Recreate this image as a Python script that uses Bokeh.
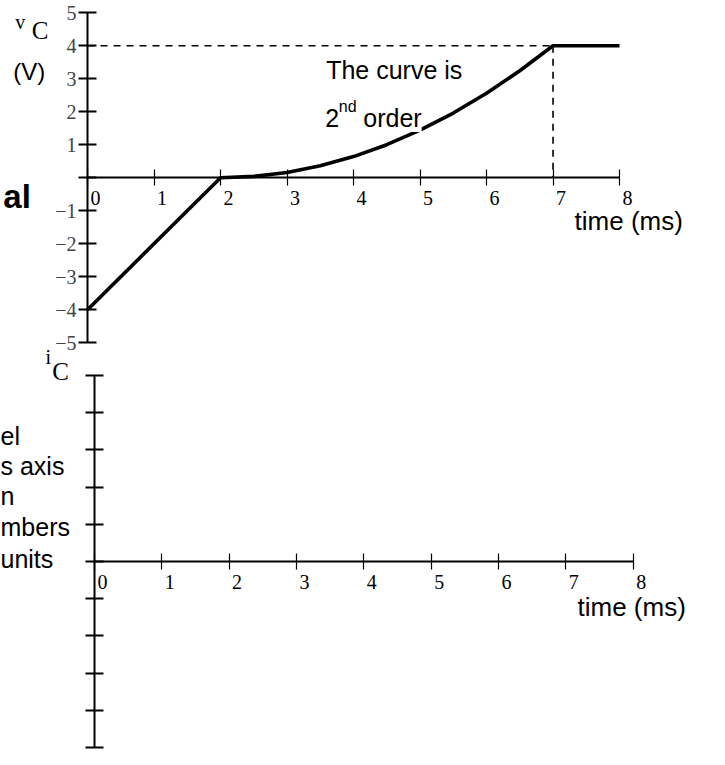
from bokeh.plotting import figure
from bokeh.models import Range1d, LinearAxis, FixedTicker, Label
from bokeh.core.properties import value
from bokeh.embed import file_html
from bokeh.resources import INLINE

# ---------------- data ----------------
time_ticks = [0, 1, 2, 3, 4, 5, 6, 7, 8]
vc_ticks = [-5, -4, -3, -2, -1, 0, 1, 2, 3, 4, 5]
ic_ticks = [-5, -4, -3, -2, -1, 0, 1, 2, 3, 4, 5]

# v_C(t) (ms, V)
t_vc = [0, 2, 2.5, 3, 3.5, 4, 4.5, 5, 5.5, 6, 6.5, 7, 8]
vc = [-4, 0, 0.04, 0.16, 0.36, 0.64, 1.0, 1.44, 1.96, 2.56, 3.24, 4, 4]

# dashed guides
guide_h_t = [0, 7]
guide_h_v = [4, 4]
guide_v_t = [7, 7]
guide_v_v = [4, 0]

left_fragments = ["el", "s axis", "n", "mbers", "units"]

SERIF = "Liberation Serif"
SANS = "Liberation Sans"

W, H = 709, 749

# reference layout anchors (pixels of a 725x765 page)
TX0, TPX = 89, 68.0      # top plot: x=0 pixel, px per ms
TY0, TPY = 181, 33.7     # top plot: y=0 pixel, px per V
BX0, BPX = 96, 68.875    # bottom plot
BY0, BPY = 573, 38.0

p = figure(width=W, height=H,
           x_range=Range1d(-TX0 / TPX, (725 - TX0) / TPX),
           y_range=Range1d((TY0 - 765) / TPY, TY0 / TPY),
           x_axis_type=None, y_axis_type=None,
           toolbar_location=None, output_backend="svg",
           min_border=0, outline_line_color=None)
p.extra_x_ranges = {"bx": Range1d(-BX0 / BPX, (725 - BX0) / BPX)}
p.extra_y_ranges = {"by": Range1d((BY0 - 765) / BPY, BY0 / BPY)}


def minus(v):
    return ("\u2212" + str(-v)) if v < 0 else str(v)


def x_axis(rn=None):
    kw = {}
    if rn:
        kw = dict(x_range_name="bx", y_range_name="by")
    ax = LinearAxis(fixed_location=0, bounds=(0, 8),
                    ticker=FixedTicker(ticks=time_ticks, minor_ticks=[]),
                    major_tick_in=8, major_tick_out=8,
                    major_tick_line_width=1.2, axis_line_width=2,
                    minor_tick_line_color=None,
                    major_label_text_color=None, **kw)
    return ax


def y_axis(ticks, labels=True, rn=None):
    kw = {}
    if rn:
        kw = dict(x_range_name="bx", y_range_name="by")
    ax = LinearAxis(fixed_location=0, bounds=(-5, 5),
                    ticker=FixedTicker(ticks=ticks, minor_ticks=[]),
                    major_tick_in=9, major_tick_out=9,
                    major_tick_line_width=2, axis_line_width=2,
                    minor_tick_line_color=None,
                    major_label_standoff=2,
                    major_label_text_font=SERIF,
                    major_label_text_font_size="20px",
                    **kw)
    if labels:
        ax.major_label_overrides = {v: ("" if v == 0 else minus(v)) for v in ticks}
    else:
        ax.major_label_text_color = None
    return ax


p.add_layout(x_axis(), "below")
p.add_layout(y_axis(vc_ticks), "left")
p.add_layout(x_axis("b"), "below")
p.add_layout(y_axis(ic_ticks, labels=False, rn="b"), "left")

# curve and guides (top)
p.line(guide_h_t, guide_h_v, line_color="black", line_width=1.6, line_dash="7 6")
p.line(guide_v_t, guide_v_v, line_color="black", line_width=1.6, line_dash="7 6")
p.line(t_vc, vc, line_color="black", line_width=3.6, line_join="round")

# x tick labels (right of each tick, below axis)
tick_labels = [str(t) for t in time_ticks]
p.text(x=time_ticks, y=[0] * len(time_ticks), text=tick_labels,
       x_offset=3, y_offset=20, text_baseline="alphabetic",
       text_font=value(SERIF), text_font_size="20px", text_color="black")
p.text(x=time_ticks, y=[0] * len(time_ticks), text=tick_labels,
       x_offset=3, y_offset=20, text_baseline="alphabetic",
       text_font=value(SERIF), text_font_size="20px", text_color="black",
       x_range_name="bx", y_range_name="by")


def tx(px):
    return (px - TX0) / TPX


def ty(py):
    return (TY0 - py) / TPY


def bx(px):
    return (px - BX0) / BPX


def by(py):
    return (BY0 - py) / BPY


def txt(x, y, s, font=SANS, size="23px", style="normal", align="left",
        baseline="alphabetic", bottom=False):
    kw = {}
    if bottom:
        kw = dict(x_range_name="bx", y_range_name="by")
    p.text(x=[x], y=[y], text=[s], text_font=value(font), text_font_size=size,
           text_font_style=style, text_align=align, text_baseline=baseline,
           text_color="black", **kw)


# top axis labels
txt(tx(15), ty(22), "v", font=SERIF, size="20px")
txt(tx(32), ty(31), "C", font=SERIF, size="25px")
txt(tx(13), ty(73), "(V)", size="24px")
txt(tx(31), ty(200), "al", size="33px", style="bold", align="right")
txt(tx(587), ty(225), "time (ms)", size="26px")

# annotation in top plot
txt(tx(333), ty(71), "The curve is", size="25px")
txt(tx(332), ty(120), "2", size="25px")
txt(tx(346), ty(108), "nd", size="16px")
p.add_layout(Label(x=tx(371), y=ty(120), text="order", text_font=SANS,
                   text_font_size="25px", text_baseline="alphabetic",
                   text_color="black", background_fill_color="white"))

# bottom labels
txt(bx(46), by(364), "i", font=SERIF, size="20px", bottom=True)
txt(bx(53), by(379), "C", font=SERIF, size="25px", bottom=True)
txt(bx(590), by(619), "time (ms)", size="26px", bottom=True)
frag_y = [445, 475, 506, 538, 570]
for s, yy in zip(left_fragments, frag_y):
    txt(bx(0), by(yy), s, size="25px", baseline="middle", bottom=True)

open("out.html", "w").write(file_html(p, INLINE))
